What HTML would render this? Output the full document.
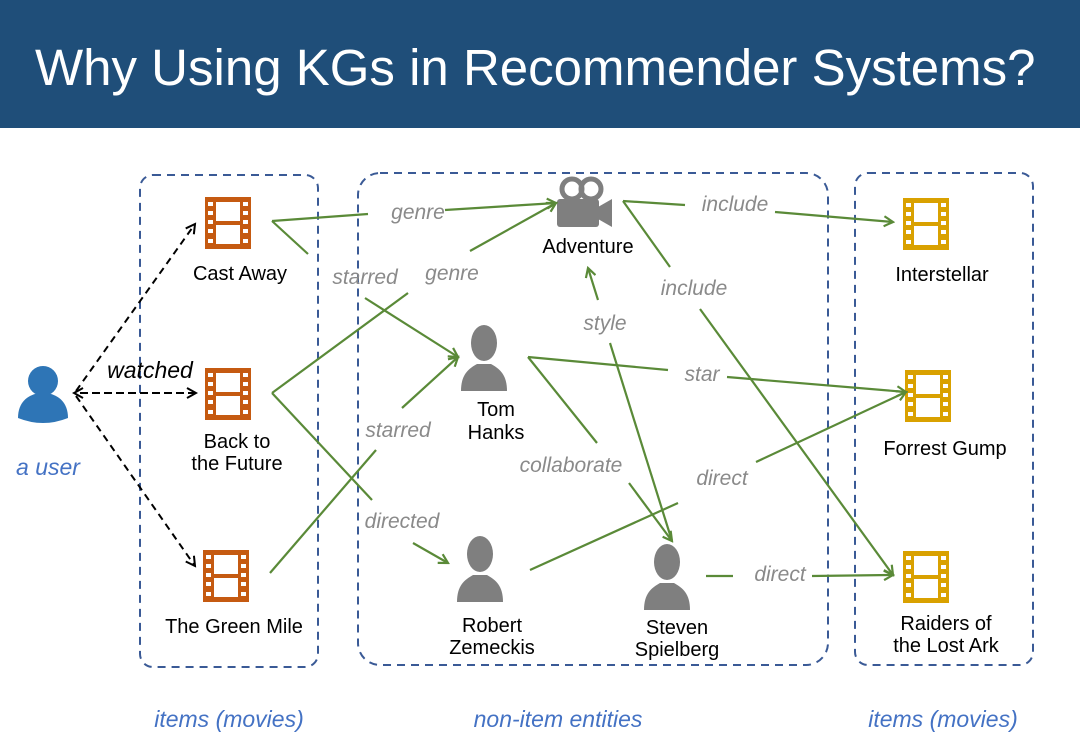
<!DOCTYPE html>
<html><head><meta charset="utf-8"><style>
html,body{margin:0;padding:0;background:#fff;}
svg{display:block;}
text{font-family:"Liberation Sans",sans-serif;}
.lab{font-size:20px;fill:#000;text-anchor:middle;}
.el{font-size:21px;fill:#8a8a8a;font-style:italic;text-anchor:middle;}
.bl{font-size:23px;fill:#4472c4;font-style:italic;text-anchor:middle;}
.g{stroke:#5a8a38;stroke-width:2.2;fill:none;}
.d{stroke:#000;stroke-width:2;fill:none;stroke-dasharray:7 5;}
.box{fill:none;stroke:#3a5a96;stroke-width:2;stroke-dasharray:8 6;}
</style></head><body>
<svg width="1080" height="753" viewBox="0 0 1080 753" xmlns="http://www.w3.org/2000/svg">
<defs>
<marker id="ag" markerWidth="12" markerHeight="12" refX="10" refY="6" orient="auto" markerUnits="userSpaceOnUse">
<path d="M1,1 L10,6 L1,11" fill="none" stroke="#5a8a38" stroke-width="2.2"/></marker>
<marker id="ak" markerWidth="12" markerHeight="12" refX="10" refY="6" orient="auto" markerUnits="userSpaceOnUse">
<path d="M1,1 L10,6 L1,11" fill="none" stroke="#000" stroke-width="2"/></marker>
<g id="film">
<rect x="0" y="0" width="46" height="52" fill="currentColor"/>
<rect x="11" y="5" width="24" height="19" fill="#fff"/>
<rect x="11" y="28" width="24" height="19" fill="#fff"/>
<rect x="3" y="5" width="5" height="4" fill="#fff"/><rect x="3" y="14" width="5" height="4" fill="#fff"/><rect x="3" y="23" width="5" height="4" fill="#fff"/><rect x="3" y="32" width="5" height="4" fill="#fff"/><rect x="3" y="42" width="5" height="4" fill="#fff"/>
<rect x="38" y="5" width="5" height="4" fill="#fff"/><rect x="38" y="14" width="5" height="4" fill="#fff"/><rect x="38" y="23" width="5" height="4" fill="#fff"/><rect x="38" y="32" width="5" height="4" fill="#fff"/><rect x="38" y="42" width="5" height="4" fill="#fff"/>
</g>
<g id="person">
<ellipse cx="22" cy="20" rx="13" ry="18" fill="currentColor"/>
<path d="M-1,68 C-1,52 6,46 15,41 L29,41 C38,46 45,52 45,68 Z" fill="currentColor"/>
</g>
</defs>
<rect x="0" y="0" width="1080" height="128" fill="#1f4e79"/>
<text x="35" y="85" font-size="51" fill="#fff">Why Using KGs in Recommender Systems?</text>

<rect class="box" x="140" y="175" width="178" height="492" rx="13"/>
<rect class="box" x="358" y="173" width="470" height="492" rx="22"/>
<rect class="box" x="855" y="173" width="178" height="492" rx="13"/>

<circle cx="43" cy="381" r="15" fill="#2e75b6"/>
<path d="M18,418 C18,402 28,396 35,394 L51,394 C58,396 68,402 68,418 Q43,428 18,418 Z" fill="#2e75b6"/>
<text class="bl" x="48" y="475">a user</text>

<line class="d" x1="76" y1="391" x2="195" y2="224" marker-end="url(#ak)"/>
<line class="d" x1="196" y1="393" x2="74" y2="393" marker-end="url(#ak)"/>
<line class="d" x1="80" y1="393" x2="196" y2="393" marker-end="url(#ak)"/>
<line class="d" x1="76" y1="396" x2="195" y2="566" marker-end="url(#ak)"/>
<text x="150" y="378" font-size="23" font-style="italic" text-anchor="middle">watched</text>

<use href="#film" x="205" y="197" style="color:#c55a11"/>
<use href="#film" x="205" y="368" style="color:#c55a11"/>
<use href="#film" x="203" y="550" style="color:#c55a11"/>
<use href="#film" x="903" y="198" style="color:#d9a100"/>
<use href="#film" x="905" y="370" style="color:#d9a100"/>
<use href="#film" x="903" y="551" style="color:#d9a100"/>
<text class="lab" x="240" y="280">Cast Away</text>
<text class="lab" x="237" y="448">Back to</text>
<text class="lab" x="237" y="470">the Future</text>
<text class="lab" x="234" y="633">The Green Mile</text>
<text class="lab" x="942" y="281">Interstellar</text>
<text class="lab" x="945" y="455">Forrest Gump</text>
<text class="lab" x="946" y="630">Raiders of</text>
<text class="lab" x="946" y="652">the Lost Ark</text>

<use href="#person" x="462" y="323" style="color:#7f7f7f"/>
<use href="#person" x="458" y="534" style="color:#7f7f7f"/>
<use href="#person" x="645" y="542" style="color:#7f7f7f"/>
<text class="lab" x="496" y="416">Tom</text>
<text class="lab" x="496" y="439">Hanks</text>
<text class="lab" x="492" y="632">Robert</text>
<text class="lab" x="492" y="654">Zemeckis</text>
<text class="lab" x="677" y="634">Steven</text>
<text class="lab" x="677" y="656">Spielberg</text>

<g fill="#7f7f7f">
<circle cx="572" cy="189" r="10" fill="none" stroke="#7f7f7f" stroke-width="5"/>
<circle cx="591" cy="189" r="10" fill="none" stroke="#7f7f7f" stroke-width="5"/>
<rect x="557" y="199" width="42" height="28" rx="3"/>
<path d="M598,207 L612,199 L612,227 L598,219 Z"/>
</g>
<text class="lab" x="588" y="253">Adventure</text>

<line class="g" x1="272" y1="221" x2="368" y2="214"/>
<line class="g" x1="445" y1="210" x2="556" y2="203" marker-end="url(#ag)"/>
<line class="g" x1="272" y1="221" x2="308" y2="254"/>
<line class="g" x1="365" y1="298" x2="458" y2="357" marker-end="url(#ag)"/>
<line class="g" x1="272" y1="393" x2="408" y2="293"/>
<line class="g" x1="470" y1="251" x2="556" y2="203" marker-end="url(#ag)"/>
<line class="g" x1="272" y1="393" x2="372" y2="500"/>
<line class="g" x1="413" y1="543" x2="448" y2="563" marker-end="url(#ag)"/>
<line class="g" x1="270" y1="573" x2="376" y2="450"/>
<line class="g" x1="402" y1="408" x2="458" y2="357" marker-end="url(#ag)"/>
<line class="g" x1="528" y1="357" x2="668" y2="370"/>
<line class="g" x1="727" y1="377" x2="906" y2="392" marker-end="url(#ag)"/>
<line class="g" x1="528" y1="357" x2="597" y2="443"/>
<line class="g" x1="629" y1="483" x2="672" y2="541" marker-end="url(#ag)"/>
<line class="g" x1="610" y1="343" x2="672" y2="541"/>
<line class="g" x1="598" y1="300" x2="588" y2="268" marker-end="url(#ag)"/>
<line class="g" x1="623" y1="201" x2="685" y2="205"/>
<line class="g" x1="775" y1="212" x2="893" y2="222" marker-end="url(#ag)"/>
<line class="g" x1="623" y1="201" x2="670" y2="267"/>
<line class="g" x1="700" y1="309" x2="893" y2="575" marker-end="url(#ag)"/>
<line class="g" x1="530" y1="570" x2="678" y2="503"/>
<line class="g" x1="756" y1="462" x2="906" y2="392" marker-end="url(#ag)"/>
<line class="g" x1="706" y1="576" x2="733" y2="576"/>
<line class="g" x1="812" y1="576" x2="893" y2="575" marker-end="url(#ag)"/>

<text class="el" x="418" y="219">genre</text>
<text class="el" x="365" y="284">starred</text>
<text class="el" x="452" y="280">genre</text>
<text class="el" x="398" y="437">starred</text>
<text class="el" x="402" y="528">directed</text>
<text class="el" x="735" y="211">include</text>
<text class="el" x="694" y="295">include</text>
<text class="el" x="605" y="330">style</text>
<text class="el" x="702" y="381">star</text>
<text class="el" x="571" y="472">collaborate</text>
<text class="el" x="722" y="485">direct</text>
<text class="el" x="780" y="581">direct</text>

<text class="bl" x="229" y="727">items (movies)</text>
<text class="bl" x="558" y="727">non-item entities</text>
<text class="bl" x="943" y="727">items (movies)</text>
</svg>
</body></html>
